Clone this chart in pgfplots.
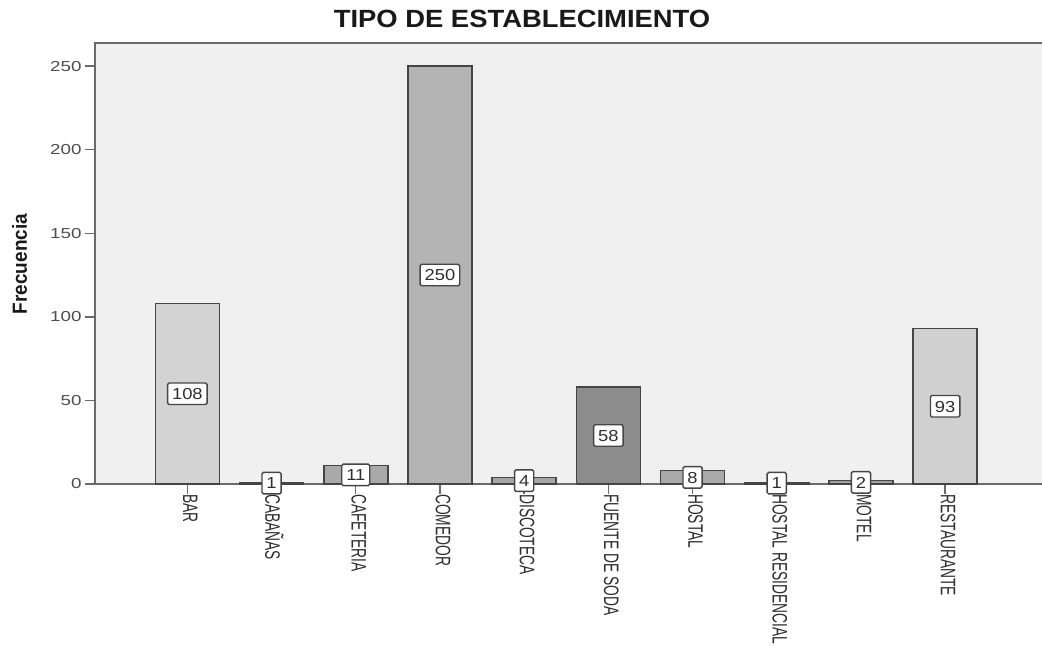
\documentclass[border=0pt]{standalone}
\usepackage{fontspec}
\setmainfont{Liberation Sans}
\newfontfamily\catfont{Liberation Sans}[FakeStretch=0.66]
\newfontfamily\numfont{Liberation Sans}[FakeStretch=1.3]
\newfontfamily\valfont{Liberation Sans}[FakeStretch=1.15]
\newfontfamily\titlefont{Liberation Sans}[FakeStretch=1.1]
\newfontfamily\ylabfont{Liberation Sans}[FakeStretch=0.93]
\usepackage{pgfplots}
\usepackage{pgfplotstable}
\pgfplotsset{compat=1.18}

\definecolor{plotbg}{HTML}{F0F0F0}
\definecolor{axisgray}{HTML}{6A6A6A}
\definecolor{bardraw}{HTML}{454545}
\definecolor{labgray}{HTML}{2E2E2E}
\definecolor{c0}{HTML}{D3D3D3}
\definecolor{c1}{HTML}{999999}
\definecolor{c2}{HTML}{A9A9A9}
\definecolor{c3}{HTML}{B4B4B4}
\definecolor{c4}{HTML}{A6A6A6}
\definecolor{c5}{HTML}{8D8D8D}
\definecolor{c6}{HTML}{AAAAAA}
\definecolor{c7}{HTML}{999999}
\definecolor{c8}{HTML}{A0A0A0}
\definecolor{c9}{HTML}{D0D0D0}

% frecuencia por tipo de establecimiento
\pgfplotstableread{
x y
0 108
1 1
2 11
3 250
4 4
5 58
6 8
7 1
8 2
9 93
}\datatable

\begin{document}
\begin{tikzpicture}
\path[use as bounding box] (-95bp,-162bp) rectangle (947bp,484bp);
\begin{axis}[
    at={(0,0)}, anchor=south west,
    scale only axis, width=957bp, height=441bp,
    xmin=-1.097, xmax=10.269, ymin=0, ymax=263.8,
    ybar, bar width=64bp, bar shift=0pt,
    /pgf/number format/assume math mode=true,
    axis background/.style={fill=plotbg},
    axis line style={draw=axisgray, line width=1.8bp},
    tick align=outside, xtick pos=left, ytick pos=left,
    major tick length=10bp,
    tick style={draw=axisgray, line width=1.4bp},
    xtick={0,...,9},
    xticklabels={BAR, CABAÑAS, CAFETERIA, COMEDOR, DISCOTECA, FUENTE DE SODA, HOSTAL, HOSTAL RESIDENCIAL, MOTEL, RESTAURANTE},
    xticklabel style={rotate=-90, anchor=west, inner sep=0pt, yshift=3bp,
        font=\catfont\fontsize{21}{22}\selectfont, text=labgray},
    ytick={0,50,...,250},
    yticklabel style={font=\numfont\fontsize{14.5}{16}\selectfont, text=labgray!85},
    title={TIPO DE ESTABLECIMIENTO},
    title style={at={(axis description cs:0.4462,1.0227)}, anchor=base,
        font=\titlefont\bfseries\fontsize{25}{28}\selectfont, text=black!90},
    ylabel={Frecuencia},
    ylabel style={at={(axis description cs:-0.0711,0.4989)}, anchor=base,
        font=\ylabfont\bfseries\fontsize{20.5}{22}\selectfont, text=black!90},
]
\addplot[fill=c0, draw=bardraw, line width=1.5bp] table[x=x, y=y, restrict x to domain=-0.2:0.2] {\datatable};
\addplot[fill=c1, draw=bardraw, line width=1.5bp] table[x=x, y=y, restrict x to domain=0.8:1.2] {\datatable};
\addplot[fill=c2, draw=bardraw, line width=1.5bp] table[x=x, y=y, restrict x to domain=1.8:2.2] {\datatable};
\addplot[fill=c3, draw=bardraw, line width=1.5bp] table[x=x, y=y, restrict x to domain=2.8:3.2] {\datatable};
\addplot[fill=c4, draw=bardraw, line width=1.5bp] table[x=x, y=y, restrict x to domain=3.8:4.2] {\datatable};
\addplot[fill=c5, draw=bardraw, line width=1.5bp] table[x=x, y=y, restrict x to domain=4.8:5.2] {\datatable};
\addplot[fill=c6, draw=bardraw, line width=1.5bp] table[x=x, y=y, restrict x to domain=5.8:6.2] {\datatable};
\addplot[fill=c7, draw=bardraw, line width=1.5bp] table[x=x, y=y, restrict x to domain=6.8:7.2] {\datatable};
\addplot[fill=c8, draw=bardraw, line width=1.5bp] table[x=x, y=y, restrict x to domain=7.8:8.2] {\datatable};
\addplot[fill=c9, draw=bardraw, line width=1.5bp] table[x=x, y=y, restrict x to domain=8.8:9.2] {\datatable};
% value labels at mid-height of each bar
\addplot[draw=none, fill=none, nodes near coords, point meta=explicit,
    every node near coord/.append style={anchor=center, fill=white, draw=bardraw,
        line width=1.4bp, rounded corners=1.5bp, inner xsep=4.5bp, inner ysep=5bp,
        text height=11.5bp, text depth=0pt, text=labgray,
        font=\valfont\fontsize{16}{18}\selectfont}]
    table[x=x, y expr=\thisrow{y}/2, meta=y] {\datatable};
\end{axis}
\end{tikzpicture}
\end{document}
